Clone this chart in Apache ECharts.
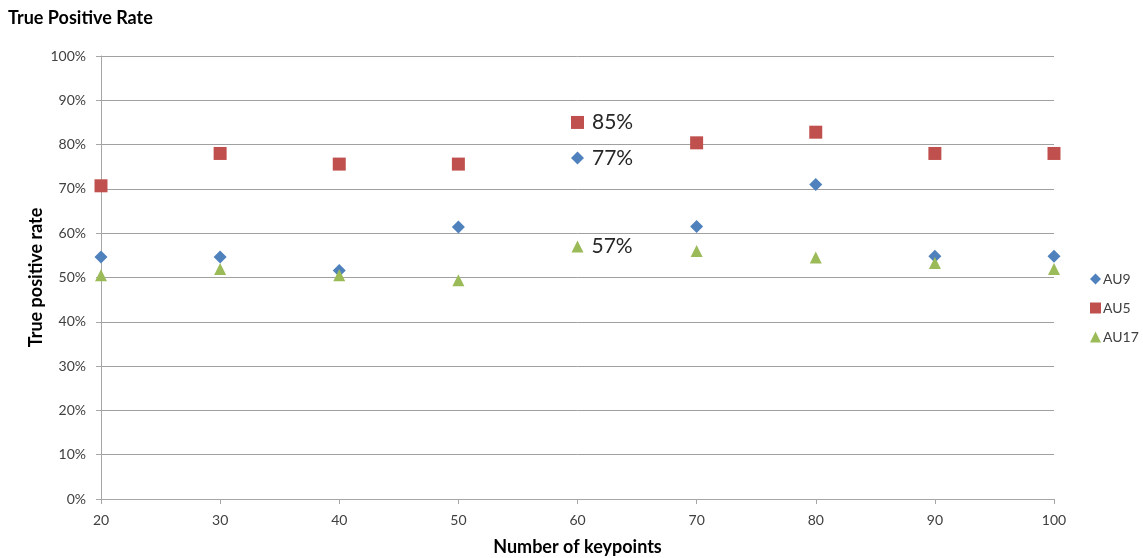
<!DOCTYPE html>
<html>
<head>
<meta charset="utf-8">
<script src="https://cdn.jsdelivr.net/npm/echarts@6/dist/echarts.min.js"></script>
<style>
  html, body { margin: 0; padding: 0; background: #fff; }
  #chart { width: 1143px; height: 558px; }
</style>
</head>
<body>
<div id="chart"></div>
<script>
// Number of keypoints on the x axis
const keypoints = [20, 30, 40, 50, 60, 70, 80, 90, 100];
// True positive rate (%) per action unit
const au9 = [54.6, 54.6, 51.6, 61.4, 77, 61.5, 71.0, 54.8, 54.8];
const au5 = [70.7, 78.0, 75.6, 75.6, 85, 80.4, 82.8, 78.0, 78.0];
const au17 = [50.5, 51.9, 50.5, 49.4, 57, 56.0, 54.5, 53.3, 51.9];
// Only the 60-keypoint point carries a value label
const labelledX = 60;
const yTicks = [0, 10, 20, 30, 40, 50, 60, 70, 80, 90, 100];

const FONT = 'Lato, "Open Sans", sans-serif';
const TEXT = '#404040';

function pts(values) {
  return keypoints.map((k, i) => ({
    value: [k, values[i]],
    label: {
      show: k === labelledX,
      position: 'right',
      distance: 8,
      formatter: p => Math.round(p.value[1]) + '%',
      fontFamily: FONT,
      fontSize: 21,
      color: '#262626'
    }
  }));
}

const chart = echarts.init(document.getElementById('chart'), null, { renderer: 'canvas' });
chart.setOption({
  backgroundColor: '#fff',
  animation: false,
  title: {
    text: 'True Positive Rate',
    left: 3,
    top: 4,
    textStyle: { fontFamily: FONT, fontSize: 18, fontWeight: 'bold', color: '#000' }
  },
  grid: { left: 101, right: 89, top: 56, bottom: 59, outerBoundsMode: 'none', containLabel: false },
  legend: {
    orient: 'vertical',
    left: 1085,
    top: 267,
    itemWidth: 11,
    itemHeight: 11,
    itemGap: 15,
    textStyle: { fontFamily: FONT, fontSize: 14, color: TEXT, padding: [0, 0, 0, -3] },
    data: ['AU9', 'AU5', 'AU17']
  },
  xAxis: {
    type: 'value',
    min: 20,
    max: 100,
    interval: 10,
    name: 'Number of keypoints',
    nameLocation: 'middle',
    nameGap: 39,
    nameMoveOverlap: false,
    nameTextStyle: { fontFamily: FONT, fontSize: 18, fontWeight: 'bold', color: '#000' },
    axisLine: { show: true, onZero: false, lineStyle: { color: '#a6a6a6', width: 1 } },
    axisTick: { show: true, length: 5, lineStyle: { color: '#a6a6a6' } },
    axisLabel: { fontFamily: FONT, fontSize: 14, color: TEXT, margin: 14 },
    splitLine: { show: false }
  },
  yAxis: {
    type: 'value',
    min: 0,
    max: 100,
    interval: 10,
    name: 'True positive rate',
    nameLocation: 'middle',
    nameGap: 56,
    nameMoveOverlap: false,
    nameTextStyle: { fontFamily: FONT, fontSize: 18, fontWeight: 'bold', color: '#000' },
    axisLine: { show: true, lineStyle: { color: '#a6a6a6', width: 1 } },
    axisTick: { show: true, length: 5, lineStyle: { color: '#a6a6a6' } },
    axisLabel: {
      fontFamily: FONT, fontSize: 14, color: TEXT, margin: 15,
      formatter: v => yTicks.includes(v) ? v + '%' : ''
    },
    splitLine: { show: true, lineStyle: { color: '#a0a0a0', width: 1 } }
  },
  series: [
    {
      name: 'AU9', type: 'scatter', symbol: 'diamond', symbolSize: 13,
      itemStyle: { color: '#4F81BD', opacity: 1 }, data: pts(au9), z: 3
    },
    {
      name: 'AU5', type: 'scatter', symbol: 'rect', symbolSize: 13,
      itemStyle: { color: '#C0504D', opacity: 1 }, data: pts(au5), z: 2
    },
    {
      name: 'AU17', type: 'scatter', symbol: 'triangle', symbolSize: 12,
      itemStyle: { color: '#9BBB59', opacity: 1 }, data: pts(au17), z: 4
    }
  ]
});
</script>
</body>
</html>
